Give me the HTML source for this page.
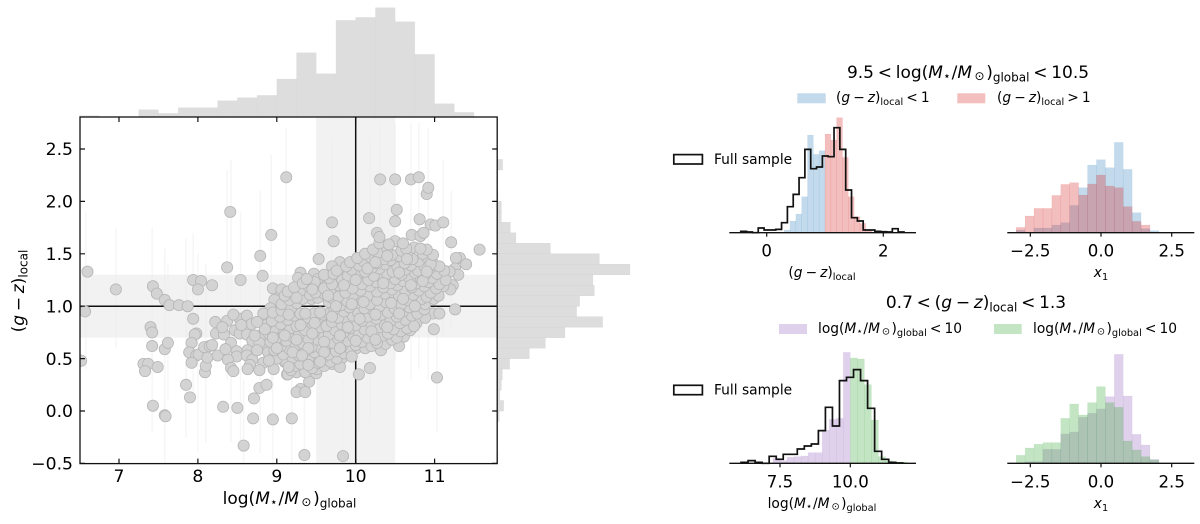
<!DOCTYPE html>
<html lang="en">
<head>
<meta charset="utf-8">
<title>Stellar mass and local colour</title>
<style>
html,body{margin:0;padding:0;background:#fff;}
svg{display:block;}
text{font-family:"DejaVu Sans","Liberation Sans",sans-serif;fill:#000;}
.i{font-style:italic;}
</style>
</head>
<body>
<svg id="fig" xmlns="http://www.w3.org/2000/svg" width="1200" height="524" viewBox="0 0 1200 524">
  <g id="top-hist"></g>
  <g id="right-hist"></g>
  <g id="main"></g>
  <g id="panel-a"></g>
  <g id="panel-b"></g>
  <g id="panel-c"></g>
  <g id="panel-d"></g>

  <text x="289.5" y="504" text-anchor="middle" font-size="17">log(<tspan class="i">M</tspan><tspan font-size="12.5" dy="2">⋆</tspan><tspan dy="-2" dx=".05em">/</tspan><tspan class="i">M</tspan><tspan font-size="12" dy="2" dx=".2em">⊙</tspan><tspan dy="-2" dx=".1em">)</tspan><tspan font-size="12" dy="3.5">global</tspan></text>
  <text transform="translate(24 291) rotate(-90)" text-anchor="middle" font-size="17">(<tspan class="i">g</tspan><tspan dx=".22em">−</tspan><tspan dx=".22em" class="i">z</tspan>)<tspan font-size="12" dy="3.5">local</tspan></text>

  <text x="968" y="78" text-anchor="middle" font-size="17">9.5<tspan dx=".22em">&lt;</tspan><tspan dx=".22em">log(</tspan><tspan class="i">M</tspan><tspan font-size="12.5" dy="2">⋆</tspan><tspan dy="-2" dx=".05em">/</tspan><tspan class="i">M</tspan><tspan font-size="12" dy="2" dx=".2em">⊙</tspan><tspan dy="-2" dx=".1em">)</tspan><tspan font-size="12" dy="3.5">global</tspan><tspan dy="-3.5" dx=".22em">&lt;</tspan><tspan dx=".22em">10.5</tspan></text>
  <text x="976" y="308" text-anchor="middle" font-size="17">0.7<tspan dx=".22em">&lt;</tspan><tspan dx=".22em">(</tspan><tspan class="i">g</tspan><tspan dx=".22em">−</tspan><tspan dx=".22em" class="i">z</tspan>)<tspan font-size="12" dy="3.5">local</tspan><tspan dy="-3.5" dx=".22em">&lt;</tspan><tspan dx=".22em">1.3</tspan></text>

  <rect x="797.3" y="93.3" width="28.4" height="10" fill="#1f77b4" fill-opacity=".27"/>
  <text x="836" y="102" font-size="13.8">(<tspan class="i">g</tspan><tspan dx=".22em">−</tspan><tspan dx=".22em" class="i">z</tspan>)<tspan font-size="9.8" dy="2.8">local</tspan><tspan dy="-2.8" dx=".22em">&lt;</tspan><tspan dx=".22em">1</tspan></text>
  <rect x="957.3" y="93.3" width="28" height="10" fill="#d62728" fill-opacity=".3"/>
  <text x="997" y="102" font-size="13.8">(<tspan class="i">g</tspan><tspan dx=".22em">−</tspan><tspan dx=".22em" class="i">z</tspan>)<tspan font-size="9.8" dy="2.8">local</tspan><tspan dy="-2.8" dx=".22em">&gt;</tspan><tspan dx=".22em">1</tspan></text>

  <rect x="779" y="324" width="28" height="10" fill="#9467bd" fill-opacity=".3"/>
  <text x="818" y="333" font-size="13.8">log(<tspan class="i">M</tspan><tspan font-size="10.2" dy="1.6">⋆</tspan><tspan dy="-1.6" dx=".05em">/</tspan><tspan class="i">M</tspan><tspan font-size="9.8" dy="1.6" dx=".2em">⊙</tspan><tspan dy="-1.6" dx=".1em">)</tspan><tspan font-size="9.8" dy="2.8">global</tspan><tspan dy="-2.8" dx=".22em">&lt;</tspan><tspan dx=".22em">10</tspan></text>
  <rect x="994" y="324" width="27.7" height="10" fill="#2ca02c" fill-opacity=".28"/>
  <text x="1033" y="333" font-size="13.8">log(<tspan class="i">M</tspan><tspan font-size="10.2" dy="1.6">⋆</tspan><tspan dy="-1.6" dx=".05em">/</tspan><tspan class="i">M</tspan><tspan font-size="9.8" dy="1.6" dx=".2em">⊙</tspan><tspan dy="-1.6" dx=".1em">)</tspan><tspan font-size="9.8" dy="2.8">global</tspan><tspan dy="-2.8" dx=".22em">&lt;</tspan><tspan dx=".22em">10</tspan></text>

  <rect x="673.8" y="154.6" width="28.6" height="9.4" fill="none" stroke="#111" stroke-width="1.7"/>
  <text x="714" y="164" font-size="13.8">Full sample</text>
  <rect x="673.8" y="385.3" width="28.6" height="9.4" fill="none" stroke="#111" stroke-width="1.7"/>
  <text x="714" y="394.5" font-size="13.8">Full sample</text>

  <text x="822" y="277" text-anchor="middle" font-size="13.8">(<tspan class="i">g</tspan><tspan dx=".22em">−</tspan><tspan dx=".22em" class="i">z</tspan>)<tspan font-size="9.8" dy="2.8">local</tspan></text>
  <text x="1101" y="277" text-anchor="middle" font-size="13.8"><tspan class="i">x</tspan><tspan font-size="9.8" dy="2.8">1</tspan></text>
  <text x="822" y="508" text-anchor="middle" font-size="13.8">log(<tspan class="i">M</tspan><tspan font-size="10.2" dy="1.6">⋆</tspan><tspan dy="-1.6" dx=".05em">/</tspan><tspan class="i">M</tspan><tspan font-size="9.8" dy="1.6" dx=".2em">⊙</tspan><tspan dy="-1.6" dx=".1em">)</tspan><tspan font-size="9.8" dy="2.8">global</tspan></text>
  <text x="1101" y="508" text-anchor="middle" font-size="13.8"><tspan class="i">x</tspan><tspan font-size="9.8" dy="2.8">1</tspan></text>
</svg>

<script>
// ---- marginal histograms ----
const topHistCounts = [4,0,0,22,11,28,28,49,58,65,114,193,130,290,299,328,286,188,40,14];
const rightHistCounts = [2,0,0,0,6,19,8,12,15,37,96,144,203,316,238,247,291,287,398,306,159,56,39,12,12,2,0,0,16];

// ---- scatter panel ----
const xTickValues = [7,8,9,10,11];
const yTickValues = [-0.5,0,0.5,1,1.5,2,2.5];
const yTickLabels = ['−0.5','0.0','0.5','1.0','1.5','2.0','2.5'];
const errorBars = [[6.58,0.4,1.9],[6.96,0.6,1.75],[7.42,-0.2,1.75],[7.58,-0.5,1.55],[7.62,0.1,1.4],[7.85,-0.25,1.65],[7.94,0.1,1.7],[8.0,-0.4,1.5],[8.1,-0.3,1.4],[8.37,0.3,2.3],[8.42,-0.3,2.4],[8.54,-0.35,1.9],[8.58,-0.5,0.3],[8.79,-0.4,2.1],[8.93,0.2,2.45],[8.95,-0.5,0.6],[9.12,0.4,2.7],[9.19,-0.5,0.6],[9.35,-0.5,0.7],[9.7,0.6,2.6],[9.84,-0.5,0.3],[10.04,-0.2,2.2],[10.18,-0.1,2.6],[10.31,0.6,2.75],[10.5,0.5,2.75],[10.7,0.3,2.75],[10.8,0.4,2.75],[10.92,0.3,2.7],[11.03,-0.2,1],[11.11,0.7,2.4],[11.21,0.8,2.1]];
const galaxyPoints = [
[6.6,1.33],[6.96,1.16],[7.43,1.19],[7.48,1.12],[7.58,1.06],[7.64,1.01],[7.76,1.01],[7.87,1.0],[7.94,1.25],[8.04,1.24],[8.0,1.16],[8.18,1.2],[8.37,1.37],[8.41,1.9],[8.54,1.25],[8.79,1.48],[8.93,1.68],[8.82,1.29],[8.95,1.17],[9.06,1.15],[9.02,1.08],[8.97,1.06],[9.12,2.23],[8.92,0.98],[6.57,0.95],
[10.31,2.21],[10.5,2.21],[10.7,2.21],[10.8,2.23],[10.9,2.07],[10.92,2.13],[10.52,1.92],[10.17,1.84],[10.5,1.81],[10.81,1.83],[9.7,1.8],[10.95,1.78],[11.01,1.77],[11.11,1.8],[9.72,1.62],[11.21,1.61],[11.57,1.54],[9.53,1.45],[9.8,1.42],[11.32,1.46],[11.27,1.46],[11.4,1.4],[11.26,1.36],[11.3,1.3],[11.19,1.33],[11.23,1.2],[11.2,1.16],[11.11,1.19],[9.3,1.32],[9.27,1.27],[9.47,1.31],[9.41,1.22],[9.56,1.23],[9.52,1.26],[9.62,1.29],[9.7,1.38],[9.81,1.31],[9.06,1.16],
[6.52,0.48],[7.4,0.8],[7.42,0.75],[7.42,0.62],[7.58,0.59],[7.62,0.65],[7.31,0.45],[7.37,0.45],[7.33,0.38],[7.49,0.42],[7.85,0.25],[7.9,0.13],[7.43,0.05],[7.58,-0.04],[7.59,-0.05],[8.32,0.04],[8.5,0.03],[8.58,-0.33],[8.7,-0.07],[8.95,-0.08],[8.71,0.12],[8.78,0.22],[8.87,0.25],[7.94,0.88],[7.98,0.74],[7.96,0.73],[7.92,0.65],[7.89,0.56],[7.98,0.53],[8.01,0.54],[7.92,0.46],[8.09,0.37],[8.1,0.43],[8.12,0.51],[8.08,0.61],[8.15,0.62],[8.18,0.63],[8.25,0.53],[8.22,0.85],[8.23,0.74],[8.33,0.73],[8.37,0.86],[8.31,0.8],[8.53,0.88],[8.62,0.91],[8.68,0.83],[8.47,0.77],[8.53,0.74],[8.62,0.73],[8.69,0.67],[8.42,0.65],[8.35,0.59],[8.49,0.57],[8.63,0.58],[8.49,0.52],[8.38,0.49],[8.62,0.53],[8.69,0.49],[8.66,0.44],[8.63,0.4],[8.42,0.41],[8.45,0.38],[8.83,0.46],[8.78,0.39],[8.96,0.4],[9.1,0.47],[9.13,0.35],[8.82,0.73],[8.85,0.63],[8.89,0.56],[8.97,0.53],[8.78,0.65],[8.97,0.77],[9.03,0.66],[9.08,0.8],[9.07,0.93],[8.88,0.91],[8.83,0.93],
[11.26,0.97],[10.99,0.78],[11.03,0.32],[10.18,0.41],[10.04,0.35],[9.5,0.36],[9.41,0.28],[9.3,0.21],[9.25,0.18],[9.36,0.18],[9.19,-0.07],[9.35,-0.42],[9.84,-0.43],[9.14,0.35],[9.25,0.37],[10.61,0.71],[10.55,0.62],[10.77,0.84],[10.81,0.96],[10.98,0.93],[11.06,0.93],[10.69,0.77],[10.43,0.69],[10.32,0.58],[10.5,0.84],[10.29,0.73],[10.16,0.72],[10.01,0.6],[9.87,0.63],[9.88,0.57],[9.82,0.5],[9.7,0.45],[9.8,0.42],[9.56,0.51],[9.43,0.55],[9.34,0.46],[9.1,0.47],[9.28,0.6],[9.67,0.61],[9.5,0.67],
[9.18,0.39],[9.36,0.37],[9.51,0.4],[9.24,0.43],[9.45,0.41],[9.6,0.43],[9.12,0.47],[9.3,0.45],[9.52,0.46],[9.68,0.47],[9.0,0.5],[9.2,0.51],[9.4,0.49],[9.6,0.52],[9.76,0.5],[9.08,0.54],[9.28,0.53],[9.48,0.56],[9.66,0.54],[9.85,0.55],[8.97,0.58],[9.16,0.59],[9.36,0.57],[9.56,0.6],[9.75,0.57],[9.93,0.59],[10.12,0.6],[9.05,0.62],[9.24,0.63],[9.44,0.61],[9.63,0.64],[9.82,0.61],[10.0,0.63],[10.2,0.62],[10.38,0.64],[8.92,0.66],[9.12,0.67],[9.32,0.65],[9.52,0.68],[9.71,0.65],[9.9,0.67],[10.08,0.66],[10.27,0.65],[10.46,0.68],[9.0,0.7],[9.2,0.71],[9.4,0.69],[9.59,0.72],[9.78,0.69],[9.97,0.71],[10.15,0.7],[10.35,0.72],[10.52,0.7],[8.9,0.74],[9.09,0.75],[9.28,0.73],[9.48,0.76],[9.66,0.73],[9.85,0.75],[10.04,0.74],[10.23,0.76],[10.41,0.74],[10.57,0.76],[8.96,0.78],[9.17,0.79],[9.36,0.77],[9.55,0.8],[9.74,0.77],[9.93,0.79],[10.11,0.78],[10.3,0.8],[10.48,0.78],[10.65,0.79],[8.87,0.82],[9.05,0.83],[9.25,0.81],[9.44,0.84],[9.63,0.81],[9.82,0.83],[10.0,0.82],[10.19,0.84],[10.37,0.82],[10.56,0.84],[10.74,0.81],[8.94,0.86],[9.14,0.87],[9.33,0.85],[9.52,0.88],[9.7,0.85],[9.89,0.87],[10.08,0.86],[10.26,0.88],[10.44,0.86],[10.63,0.87],[9.04,0.9],[9.22,0.91],[9.4,0.89],[9.59,0.92],[9.78,0.89],[9.96,0.91],[10.15,0.9],[10.33,0.92],[10.52,0.9],[10.71,0.91],[10.88,0.89],[8.95,0.94],[9.12,0.95],[9.3,0.93],[9.47,0.93],[9.66,0.93],[9.85,0.95],[10.03,0.94],[10.22,0.96],[10.41,0.94],[10.6,0.95],[10.78,0.93],[9.06,0.96],[9.18,0.98],[9.36,0.93],[9.55,0.94],[9.73,0.97],[9.92,0.99],[10.11,0.98],[10.3,1.0],[10.49,0.98],[10.68,0.99],[10.87,0.97],[9.06,1.02],[9.25,1.03],[9.44,1.07],[9.66,1.04],[9.81,1.01],[10.0,1.03],[10.18,1.02],[10.38,1.04],[10.58,1.02],[10.76,1.03],[10.88,1.02],[9.16,1.06],[9.33,1.07],[9.52,1.08],[9.7,1.08],[9.89,1.05],[10.08,1.07],[10.27,1.06],[10.47,1.08],[10.66,1.06],[10.84,1.07],[10.99,1.07],[9.1,1.1],[9.24,1.11],[9.42,1.11],[9.6,1.12],[9.78,1.09],[9.97,1.11],[10.15,1.1],[10.37,1.12],[10.55,1.1],[10.73,1.11],[10.9,1.09],[11.05,1.1],[9.14,1.14],[9.3,1.15],[9.49,1.13],[9.68,1.16],[9.87,1.13],[10.06,1.15],[10.27,1.14],[10.46,1.16],[10.63,1.14],[10.8,1.15],[10.95,1.13],[9.22,1.18],[9.4,1.19],[9.6,1.17],[9.78,1.2],[9.96,1.17],[10.18,1.19],[10.35,1.18],[10.53,1.2],[10.71,1.18],[10.87,1.19],[11.02,1.17],[9.33,1.22],[9.48,1.23],[9.7,1.21],[9.88,1.24],[10.08,1.21],[10.26,1.23],[10.44,1.22],[10.6,1.24],[10.77,1.22],[10.92,1.23],[11.06,1.21],[9.38,1.26],[9.66,1.27],[9.83,1.25],[9.98,1.28],[10.16,1.25],[10.33,1.27],[10.5,1.26],[10.67,1.28],[10.83,1.26],[10.97,1.27],[11.14,1.25],[9.6,1.3],[9.72,1.31],[9.9,1.29],[10.05,1.32],[10.23,1.29],[10.4,1.31],[10.58,1.3],[10.75,1.32],[10.88,1.3],[11.03,1.31],[9.76,1.34],[9.95,1.35],[10.12,1.33],[10.3,1.36],[10.47,1.33],[10.63,1.35],[10.79,1.34],[10.94,1.36],[11.12,1.34],[9.88,1.38],[10.04,1.39],[10.21,1.37],[10.37,1.4],[10.53,1.37],[10.7,1.39],[10.87,1.38],[11.0,1.39],[9.93,1.42],[10.1,1.43],[10.27,1.41],[10.44,1.44],[10.62,1.41],[10.8,1.43],[10.97,1.42],[11.06,1.38],[10.02,1.46],[10.18,1.47],[10.36,1.45],[10.55,1.48],[10.72,1.45],[10.9,1.47],[10.95,1.4],[10.12,1.5],[10.28,1.51],[10.46,1.49],[10.66,1.52],[10.85,1.5],[10.98,1.49],[10.22,1.54],[10.4,1.55],[10.58,1.53],[10.74,1.56],[10.9,1.54],[10.64,1.55],[10.82,1.55],[10.3,1.6],[10.5,1.62],[10.42,1.59],[10.71,1.68],[10.82,1.67],[10.86,1.7],[10.27,1.7],[10.3,1.66],[10.6,1.6],
[9.75,1.0],[9.95,1.02],[10.1,1.04],[10.25,0.92],[10.45,1.03],[10.6,1.07],[10.35,1.22],[10.55,1.32],[10.15,1.36],[10.85,1.24],[10.7,1.2],[10.9,1.33],[10.65,1.45],[10.4,1.48],[10.25,1.42],[9.85,1.2],[10.0,1.25],[9.65,1.1],[9.45,1.16],[9.25,1.08],[9.15,0.92],[9.3,0.82],[9.48,0.84],[9.7,0.9],[9.9,0.8],[10.05,0.88],[10.2,0.76],[10.4,0.8],[10.55,0.93],[10.75,1.0],[9.1,0.72],[9.25,0.68],[9.45,0.74],[9.6,0.66],[9.8,0.72],[10.0,0.67],[10.25,0.68],[9.0,0.6],[9.2,0.56],[9.4,0.6],[9.6,0.56],[9.8,0.6],[9.95,0.52],[9.15,0.42],[9.4,0.44],[9.55,0.47],[9.32,0.53],[8.85,0.78],[8.95,0.7],[8.75,0.85],[8.72,0.72],[8.75,0.58],[8.55,0.82],[8.45,0.92],[8.9,0.48]
];

// ---- right-hand histograms ----
const gzTicks = [0,2];
const gzLowStart = 0.3;
const gzLowCounts = [8,35,56,108,293,235,246];
const gzHighStart = 1.0;
const gzHighCounts = [296,278,345,226,108,48,28,8];
const gzFullStart = -0.445;
const gzFullCounts = [4,2,0,14,8,8,10,30,78,115,165,250,192,197,230,228,315,250,128,45,35,8,8,4,3,2,12,2];

const x1Ticks = [-2.5,0,2.5];
const x1TickLabels = ['−2.5','0.0','2.5'];
const x1Start = -3.0;
const x1Width = 0.3155;
const x1LowColourCounts = [8,0,14,14,23,30,82,135,203,219,195,271,190,60,12,6];
const x1HighColourCounts = [16,50,73,73,112,145,150,113,146,173,140,135,78,34,23,0];

const massTicks = [7.5,10];
const massTickLabels = ['7.5','10.0'];
const massLowStart = 7.25;
const massLowCounts = [16,8,18,20,22,32,32,100,132,135,333];
const massHighStart = 10.0;
const massHighCounts = [316,313,236,130,20,8,4,4];
const massFullStart = 6.115;
const massFullCounts = [3,8,3,0,21,12,27,27,43,52,58,98,168,112,248,258,281,248,165,36,12,3,1];

const x1LowMassCounts = [0,5,5,42,42,88,94,138,150,163,200,327,202,87,55,12];
const x1HighMassCounts = [24,46,57,62,62,135,178,145,182,230,182,168,67,40,20,10];

// ---- helpers ----
const NS = 'http://www.w3.org/2000/svg';
function make(parent, tag, attrs) {
  const el = document.createElementNS(NS, tag);
  for (const k in attrs) el.setAttribute(k, attrs[k]);
  parent.appendChild(el);
  return el;
}
function linear(d0, d1, p0, p1) {
  return v => p0 + (v - d0) * (p1 - p0) / (d1 - d0);
}
function drawBars(g, xs, ys, start, width, counts, color, opacity, barName) {
  counts.forEach((c, i) => {
    if (!c) return;
    const x0 = xs(start + i * width), x1 = xs(start + (i + 1) * width);
    const r = make(g, 'rect', {x: x0, y: ys(c), width: x1 - x0, height: ys(0) - ys(c), fill: color, 'fill-opacity': opacity, stroke: color, 'stroke-opacity': opacity * 0.35, 'stroke-width': 0.5});
    
    
  });
}
function drawStep(g, xs, ys, start, width, counts) {
  let d = 'M' + xs(start) + ' ' + ys(0);
  counts.forEach((c, i) => {
    d += 'L' + xs(start + i * width) + ' ' + ys(c) + 'L' + xs(start + (i + 1) * width) + ' ' + ys(c);
  });
  d += 'L' + xs(start + counts.length * width) + ' ' + ys(0);
  const p = make(g, 'path', {d: d, fill: 'none', stroke: '#111', 'stroke-width': 1.7});
  
  
}
function drawPanelAxis(g, xs, base, left, right, ticks, labels) {
  const line = make(g, 'line', {x1: left, x2: right, y1: base, y2: base, stroke: '#111', 'stroke-width': 1.3});
  
  
  ticks.forEach((t, i) => {
    const tick = make(g, 'line', {x1: xs(t), x2: xs(t), y1: base, y2: base + 4, stroke: '#111', 'stroke-width': 1.2});
    
    
    const lab = make(g, 'text', {x: xs(t), y: base + 24, 'text-anchor': 'middle', 'font-size': 16.6});
    lab.textContent = labels[i];
    
    
  });
}

// ---- main scales ----
const mx = linear(7, 11, 119, 434.6);
const my = linear(0, 2.5, 411, 149);
const AX_L = 80, AX_R = 497.2, AX_T = 117, AX_B = 463.6;

// top marginal
const topG = document.getElementById('top-hist');
const topY = v => AX_T - v / 3;
drawBars(topG, mx, topY, 6.5, 0.25, topHistCounts, '#d4d4d4', 0.8, 'top-histogram-bar');

// right marginal
const rightG = document.getElementById('right-hist');
rightHistCounts.forEach((c, i) => {
  if (!c) return;
  const yHi = my(-0.5 + (i + 1) * 0.1), yLo = my(-0.5 + i * 0.1);
  const r = make(rightG, 'rect', {x: AX_R, y: yHi, width: c / 3, height: yLo - yHi, fill: '#d4d4d4', 'fill-opacity': 0.8, stroke: '#d4d4d4', 'stroke-width': 0.4});
  
  
});

// main panel
const mainG = document.getElementById('main');
const clip = make(mainG, 'clipPath', {id: 'main-clip'});
make(clip, 'rect', {x: AX_L, y: AX_T, width: AX_R - AX_L, height: AX_B - AX_T});
const plot = make(mainG, 'g', {'clip-path': 'url(#main-clip)'});



const vBand = make(plot, 'rect', {x: mx(9.5), y: AX_T, width: mx(10.5) - mx(9.5), height: AX_B - AX_T, fill: '#f2f2f2'});


const hBand = make(plot, 'rect', {x: AX_L, y: my(1.3), width: AX_R - AX_L, height: my(0.7) - my(1.3), fill: '#f2f2f2'});



errorBars.forEach(e => {
  const l = make(plot, 'line', {x1: mx(e[0]), x2: mx(e[0]), y1: my(e[1]), y2: my(e[2]), stroke: '#ececec', 'stroke-opacity': 0.45, 'stroke-width': 1.5});
  
  
});

const vLine = make(plot, 'line', {x1: mx(10), x2: mx(10), y1: AX_T, y2: AX_B, stroke: '#111', 'stroke-width': 1.5});


const hLine = make(plot, 'line', {x1: AX_L, x2: AX_R, y1: my(1), y2: my(1), stroke: '#111', 'stroke-width': 1.5});



galaxyPoints.forEach(p => {
  const c = make(plot, 'circle', {cx: mx(p[0]), cy: my(p[1]), r: 5.6, fill: '#d3d3d3', stroke: '#b6b6b6', 'stroke-width': 0.8});
  
  
});

const frame = make(mainG, 'rect', {x: AX_L, y: AX_T, width: AX_R - AX_L, height: AX_B - AX_T, fill: 'none', stroke: '#111', 'stroke-width': 1.3});



xTickValues.forEach(t => {
  const b = make(mainG, 'path', {d: 'M' + mx(t) + ' ' + AX_B + 'v-5M' + mx(t) + ' ' + AX_T + 'v5', stroke: '#111', 'stroke-width': 1.2, fill: 'none'});
  
  
  const lab = make(mainG, 'text', {x: mx(t), y: 482, 'text-anchor': 'middle', 'font-size': 17.2});
  lab.textContent = String(t);
  
  
});
yTickValues.forEach((t, i) => {
  const b = make(mainG, 'path', {d: 'M' + AX_L + ' ' + my(t) + 'h5M' + AX_R + ' ' + my(t) + 'h-5', stroke: '#111', 'stroke-width': 1.2, fill: 'none'});
  
  
  const lab = make(mainG, 'text', {x: 73, y: my(t) + 6.2, 'text-anchor': 'end', 'font-size': 17.2});
  lab.textContent = yTickLabels[i];
  
  
});

// right panels
const BASE_TOP = 232.7, BASE_BOT = 463.3;
const LEFT_COL = [729.3, 916], RIGHT_COL = [1007.3, 1194.3];
const BLUE = '#1f77b4', RED = '#d62728', PURPLE = '#9467bd', GREEN = '#2ca02c';

const ax = linear(0, 2, 766.7, 883.3);
const ay = v => BASE_TOP - v / 3;
const aG = document.getElementById('panel-a');
drawBars(aG, ax, ay, gzLowStart, 0.1, gzLowCounts, BLUE, 0.27, 'low-colour-bar');
drawBars(aG, ax, ay, gzHighStart, 0.1, gzHighCounts, RED, 0.3, 'high-colour-bar');
drawStep(aG, ax, ay, gzFullStart, 0.1, gzFullCounts);
drawPanelAxis(aG, ax, BASE_TOP, LEFT_COL[0], LEFT_COL[1], gzTicks, gzTicks.map(String));

const bx = linear(-2.5, 2.5, 1030.3, 1171.7);
const bG = document.getElementById('panel-b');
drawBars(bG, bx, ay, x1Start, x1Width, x1LowColourCounts, BLUE, 0.27, 'low-colour-stretch-bar');
drawBars(bG, bx, ay, x1Start, x1Width, x1HighColourCounts, RED, 0.3, 'high-colour-stretch-bar');
drawPanelAxis(bG, bx, BASE_TOP, RIGHT_COL[0], RIGHT_COL[1], x1Ticks, x1TickLabels);

const cx = linear(7.5, 10, 780, 850.3);
const cy = v => BASE_BOT - v / 3;
const cG = document.getElementById('panel-c');
drawBars(cG, cx, cy, massLowStart, 0.25, massLowCounts, PURPLE, 0.3, 'low-mass-bar');
drawBars(cG, cx, cy, massHighStart, 0.25, massHighCounts, GREEN, 0.28, 'high-mass-bar');
drawStep(cG, cx, cy, massFullStart, 0.25, massFullCounts);
drawPanelAxis(cG, cx, BASE_BOT, LEFT_COL[0], LEFT_COL[1], massTicks, massTickLabels);

const dG = document.getElementById('panel-d');
drawBars(dG, bx, cy, x1Start, x1Width, x1LowMassCounts, PURPLE, 0.3, 'low-mass-stretch-bar');
drawBars(dG, bx, cy, x1Start, x1Width, x1HighMassCounts, GREEN, 0.28, 'high-mass-stretch-bar');
drawPanelAxis(dG, bx, BASE_BOT, RIGHT_COL[0], RIGHT_COL[1], x1Ticks, x1TickLabels);
</script>
</body>
</html>
